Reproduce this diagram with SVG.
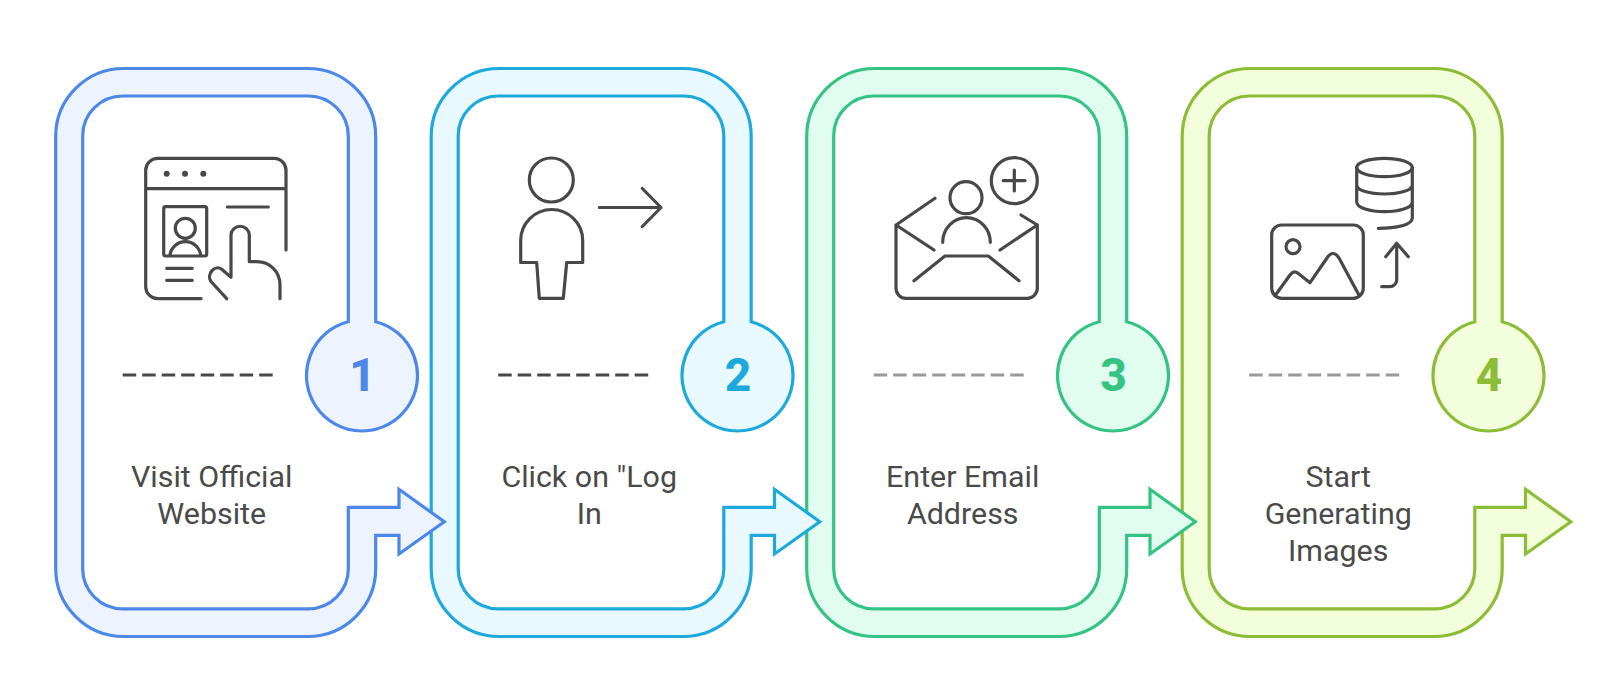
<svg xmlns="http://www.w3.org/2000/svg" width="1611" height="687" viewBox="0 0 1611 687">
<style>
.ln{fill:none;stroke:#484848;stroke-width:3.2;stroke-linecap:round;stroke-linejoin:round}
.frame{stroke-width:3.2;stroke-linejoin:miter}
.lbl{font:30.4px Roboto,sans-serif;fill:#4a4a4a;text-anchor:middle}
.num{font:800 46px Roboto,sans-serif;text-anchor:middle}
.dash{fill:none;stroke-width:3;stroke-dasharray:13.5 6}
.b1{fill:#edf4ff;stroke:#4d88e8}.b2{fill:#e8f9ff;stroke:#1ea9dc}.b3{fill:#e0fdef;stroke:#35c384}.b4{fill:#f3fedd;stroke:#8dbd36}
</style>
<defs>
<path id="frame" d="M348.300 321.700V136A40 40 0 0 0 308.300 96H122.700A40 40 0 0 0 82.700 136V568.800A40 40 0 0 0 122.700 608.800H308.300A40 40 0 0 0 348.300 568.800V507.300H399V489.300L444.300 521.700L399 554V535.300H375.700V568.500A68 68 0 0 1 307.700 636.500H123.700A68 68 0 0 1 55.700 568.500V136.500A68 68 0 0 1 123.700 68.500H307.700A68 68 0 0 1 375.700 136.500V321.700A55.500 55.500 0 1 1 348.300 321.700Z"/>
</defs>
<g id="node4" transform="translate(1126.500)">
<use href="#frame" class="frame b4"/>
<path class="dash" stroke="#999999" d="M122.700 375H272.700"/>
<text class="num" x="362.500" y="391" fill="#8dbd36">4</text>
<text class="lbl" x="211.700" y="486.700">Start</text>
<text class="lbl" x="211.700" y="523.700">Generating</text>
<text class="lbl" x="211.700" y="560.700">Images</text>
</g>
<g id="node3" transform="translate(751)">
<use href="#frame" class="frame b3"/>
<path class="dash" stroke="#999999" d="M122.700 375H272.700"/>
<text class="num" x="362.500" y="391" fill="#35c384">3</text>
<text class="lbl" x="211.700" y="486.700">Enter Email</text>
<text class="lbl" x="211.700" y="523.700">Address</text>
</g>
<g id="node2" transform="translate(375.500)">
<use href="#frame" class="frame b2"/>
<path class="dash" stroke="#484848" d="M122.700 375H272.700"/>
<text class="num" x="362.500" y="391" fill="#1ea9dc">2</text>
<text class="lbl" x="213.700" y="486.700">Click on "Log</text>
<text class="lbl" x="213.700" y="523.700">In</text>
</g>
<g id="node1">
<use href="#frame" class="frame b1"/>
<path class="dash" stroke="#484848" d="M122.700 375H272.700"/>
<text class="num" x="362.500" y="391" fill="#4d88e8">1</text>
<text class="lbl" x="211.700" y="486.700">Visit Official</text>
<text class="lbl" x="211.700" y="523.700">Website</text>
<g class="ln">
<path d="M201 298.700H158A12 12 0 0 1 145.700 286.500V170.500A12 12 0 0 1 158 158.300H274A12 12 0 0 1 286 170.500V250M145.700 188.700H286"/>
<rect x="163.700" y="206.700" width="43" height="49.300" rx="2"/>
<circle cx="185.300" cy="228.300" r="10"/>
<path d="M170 255A15.500 15.500 0 0 1 200.700 255M227.300 207H268.300M166.700 268.300H192.300M166.700 280.300H192.300"/>
<path d="M226.700 298.700L211 281.500C206 274 215 264 222 269.500L231 277.300V234.500A9.200 9.200 0 0 1 249.300 234.500V261.700H256.700C270 261.700 280 272 280 285V298.700"/>
</g>
<g fill="#484848"><circle cx="166.700" cy="173.700" r="3"/><circle cx="185" cy="173.700" r="3"/><circle cx="203.300" cy="173.700" r="3"/></g>
</g>
<g id="icon2" class="ln">
<circle cx="551.300" cy="180" r="22"/>
<path d="M520.700 262.500V240.500A31 31 0 0 1 582.700 240.500V262.500H566.700L563.300 298.300H539.300L536.700 262.500Z"/>
<path d="M599.300 207.500H661M642.300 188.500L661 207.500L642.300 226.500"/>
</g>
<g id="icon3" class="ln">
<path d="M935 198.300L896 225V288A10 10 0 0 0 906 298.300H1027A10 10 0 0 0 1037.300 288V225L1021 215M934 250L896 225M1000 250L1037.300 225M914 280.700L945 256H988.300L1019 280.700"/>
<circle cx="966" cy="197.700" r="16"/>
<path d="M942.700 242.300A23.800 24.600 0 0 1 990.300 242.300"/>
<circle cx="1014.300" cy="180.700" r="23"/>
<path d="M1014.300 170V191M1003.300 180.700H1025"/>
</g>
<g id="icon4" class="ln">
<rect x="1271.700" y="225" width="91.600" height="73.300" rx="10"/>
<circle cx="1293" cy="246.700" r="7"/>
<path d="M1275 295.700L1290 275C1293 271 1296 271 1299 274L1310 282.700L1327 258C1331 252 1335 252 1339 258L1359.300 295.700"/>
<ellipse cx="1384.500" cy="167.500" rx="27.800" ry="9.200"/>
<path d="M1356.700 167.500V201.700C1356.700 208 1370 211.700 1384.500 211.700S1412.300 208 1412.300 201.700M1412.300 167.500V218C1412.300 225 1396 228.300 1378.300 228.300M1356.700 185C1356.700 190.500 1370 194 1384.500 194S1412.300 190.500 1412.300 185"/>
<path d="M1396.700 243.300V279.700A7 7 0 0 1 1389.700 286.700H1381.700M1385.700 256.700L1396.700 243.300L1408.300 256.700"/>
</g>
</svg>
